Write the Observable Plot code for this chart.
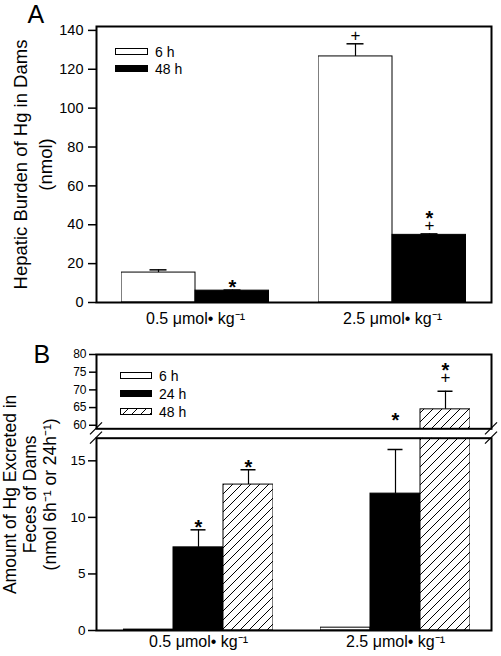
<!DOCTYPE html>
<html><head><meta charset="utf-8">
<script src="https://cdn.jsdelivr.net/npm/d3@7"></script>
<script src="https://cdn.jsdelivr.net/npm/@observablehq/plot@0.6"></script>
<style>
body{margin:0;background:#fff;}
#chart{position:relative;width:501px;height:656px;background:#fff;font-family:"Liberation Sans",Arial,Helvetica,sans-serif;color:#000;}
#chart svg{position:absolute;left:0;overflow:visible;background:none;}
</style></head><body><div id="chart"></div>
<script>
// ---------- data ----------
const doses = ["0.5", "2.5"];
const doseLabels = ["0.5 \u03bcmol\u2022 kg\u207b\u00b9", "2.5 \u03bcmol\u2022 kg\u207b\u00b9"];

// Panel A: hepatic burden (nmol)
const timesA = ["6 h", "48 h"];
const a6Mean = [15.4, 126.6];
const a6Err = [1.4, 6.5];
const a6Marks = ["", "+"];
const a48Mean = [6.1, 34.8];
const a48Err = [0.3, 0.5];
const a48Marks = ["*", "*+"];
const yTicksA = [0, 20, 40, 60, 80, 100, 120, 140];
const yDomainA = [0, 142];

// Panel B: fecal excretion (nmol 6h-1 or 24h-1), broken axis
const timesB = ["6 h", "24 h", "48 h"];
const b6Mean = [0.08, 0.25];
const b6Err = [0, 0];
const b6Marks = ["", ""];
const b24Mean = [7.35, 12.1];
const b24Err = [1.55, 3.9];
const b24Marks = ["*", "*"];
const b48Mean = [12.9, 64.5];
const b48Err = [1.3, 5.1];
const b48Marks = ["*", "*+"];
const yTicksBUpper = [60, 65, 70, 75, 80];
const yDomainBUpper = [59, 80];
const yTicksBLower = [0, 5, 10, 15];
const yDomainBLower = [0, 17];

const titleA = "Hepatic Burden of Hg in Dams\n(nmol)";
const titleB = "Amount of Hg Excreted in\nFeces of Dams\n(nmol 6h\u207b\u00b9 or 24h\u207b\u00b9)";

// ---------- build ----------
const FONT = '"Liberation Sans", Arial, Helvetica, sans-serif';
const W = 501, ML = 96, MR = 10;
const chart = d3.select("#chart");

// hatch pattern
const defsSvg = chart.append("svg").attr("width", 0).attr("height", 0);
const pat = defsSvg.append("defs").append("pattern").attr("id", "hatch")
  .attr("patternUnits", "userSpaceOnUse").attr("width", 9).attr("height", 9);
pat.append("rect").attr("width", 9).attr("height", 9).attr("fill", "white");
pat.append("path").attr("d", "M-2,2L2,-2M0,9L9,0M7,11L11,7").attr("stroke", "black").attr("stroke-width", 1);

function rows(times, means, errs, marks) {
  return doses.flatMap((dose, i) => times.map((time, j) => ({
    dose, time, mean: means[j][i], err: errs[j][i], marks: marks[j][i], top: means[j][i] + errs[j][i]
  })));
}
const tableA = rows(timesA, [a6Mean, a48Mean], [a6Err, a48Err], [a6Marks, a48Marks]);
const tableB = rows(timesB, [b6Mean, b24Mean, b48Mean], [b6Err, b24Err, b48Err], [b6Marks, b24Marks, b48Marks]);
const fillA = d => d.time === "6 h" ? "white" : "black";
const fillB = d => d.time === "6 h" ? "white" : d.time === "24 h" ? "black" : "url(#hatch)";

function place(node, top) { node.style.top = top + "px"; chart.node().append(node); return node; }

function annotMarks(ann, yAcc, lift) {
  return [
    Plot.text(ann.filter(d => d.marks.includes("+")), {fx: "dose", x: "time", y: yAcc, text: () => "+", dy: -8 - lift, fontSize: 17}),
    Plot.text(ann.filter(d => d.marks === "*"), {fx: "dose", x: "time", y: yAcc, text: () => "*", dy: -2 - lift, fontSize: 20, fontWeight: "bold"}),
    Plot.text(ann.filter(d => d.marks === "*+"), {fx: "dose", x: "time", y: yAcc, text: () => "*", dy: -15 - lift, fontSize: 20, fontWeight: "bold"})
  ];
}

function barLayer({table, times, fill, height, mt, mb, yDomain, fx, capInset, ann, annY, lift = 0, axis, axisPad}) {
  const withErr = table.filter(d => d.err > 0);
  return Plot.plot({
    width: W, height, marginLeft: ML, marginRight: MR, marginTop: mt, marginBottom: mb,
    style: {fontFamily: FONT, background: "none", overflow: "visible"},
    fx: {domain: doses, axis: null, label: null, ...fx},
    x: {domain: times, padding: 0, axis: null},
    y: {domain: yDomain, axis: null},
    color: {type: "identity"},
    marks: [
      Plot.barY(table, {fx: "dose", x: "time", y: "mean", fill, stroke: "black", strokeWidth: 1, clip: true}),
      Plot.ruleX(withErr, {fx: "dose", x: "time", y1: "mean", y2: "top", stroke: "black", strokeWidth: 1.2, clip: true}),
      Plot.tickY(withErr, {fx: "dose", x: "time", y: "top", stroke: "black", strokeWidth: 1.5, insetLeft: capInset, insetRight: capInset, clip: true}),
      ...annotMarks(ann, annY, lift),
      ...(axis ? [Plot.axisFx({anchor: "bottom", tickSize: 0, tickPadding: axisPad, label: null, fontSize: 16,
        tickFormat: d => doseLabels[doses.indexOf(d)]})] : [])
    ]
  });
}

function frameLayer({height, mt, mb, yDomain, ticks, tickSize, tickPadding, fontSize, extra}) {
  return Plot.plot({
    width: W, height, marginLeft: ML, marginRight: MR, marginTop: mt, marginBottom: mb,
    style: {fontFamily: FONT, background: "none", overflow: "visible"},
    y: {domain: yDomain},
    marks: [
      Plot.frame({stroke: "black", strokeWidth: 2}),
      Plot.axisY({ticks, tickSize, tickPadding, fontSize, label: null, strokeWidth: 1.5}),
      ...extra
    ]
  });
}

// ---- Panel A ----
const A = {top: 0, height: 335, mt: 26, mb: 33};
place(barLayer({table: tableA, times: timesA, fill: fillA, height: A.height, mt: A.mt, mb: A.mb, yDomain: yDomainA,
  fx: {paddingInner: 0.25, paddingOuter: 0.125}, capInset: 28.5, ann: tableA.filter(d => d.marks), annY: "top",
  axis: true, axisPad: 10}), A.top);
place(frameLayer({height: A.height, mt: A.mt, mb: A.mb, yDomain: yDomainA, ticks: yTicksA, tickSize: 8, tickPadding: 5, fontSize: 14.5,
  extra: [
    Plot.text([titleA], {frameAnchor: "left", textAnchor: "middle", lineAnchor: "middle", rotate: -90, dx: -65, lineHeight: 1.33, fontSize: 18.5}),
    Plot.text(["A"], {frameAnchor: "top-left", textAnchor: "start", lineAnchor: "bottom", dx: -69, dy: -4, fontSize: 25})
  ]}), A.top);

// ---- Panel B (broken axis) ----
const BU = {top: 330, height: 105, mt: 24, mb: 6.7};
const BL = {top: 420, height: 236, mt: 17.7, mb: 26};
const fxB = {paddingInner: 0.24, paddingOuter: 0.12, align: 0.55};
const lowerMax = 15.5;
const annB = tableB.filter(d => d.marks);
place(barLayer({table: tableB, times: timesB, fill: fillB, height: BU.height, mt: BU.mt, mb: BU.mb, yDomain: yDomainBUpper,
  fx: fxB, capInset: 17.5, ann: annB.filter(d => d.top > lowerMax), annY: d => Math.max(d.top, yDomainBUpper[0]),
  lift: 6, axis: false}), BU.top);
const upperFrame = place(frameLayer({height: BU.height, mt: BU.mt, mb: BU.mb, yDomain: yDomainBUpper, ticks: yTicksBUpper,
  tickSize: 7, tickPadding: 3, fontSize: 12,
  extra: [Plot.text(["B"], {frameAnchor: "top-left", textAnchor: "start", lineAnchor: "bottom", dx: -63, dy: 8, fontSize: 25})]}), BU.top);
place(barLayer({table: tableB, times: timesB, fill: fillB, height: BL.height, mt: BL.mt, mb: BL.mb, yDomain: yDomainBLower,
  fx: fxB, capInset: 17.5, ann: annB.filter(d => d.top <= lowerMax), annY: "top", axis: true, axisPad: 5}), BL.top);
place(frameLayer({height: BL.height, mt: BL.mt, mb: BL.mb, yDomain: yDomainBLower, ticks: yTicksBLower,
  tickSize: 8, tickPadding: 3, fontSize: 13.5,
  extra: [Plot.text([titleB], {frameAnchor: "left", textAnchor: "middle", lineAnchor: "middle", rotate: -90, dx: -67, dy: -40, lineHeight: 1.15, fontSize: 17.5})]}), BL.top);

// axis-break slashes on the upper frame layer
{
  const yb1 = BU.height - BU.mb;                 // bottom of upper frame
  const yb2 = (BL.top + BL.mt) - BU.top;          // top of lower frame
  const g = d3.select(upperFrame).append("g").attr("stroke", "black").attr("stroke-width", 1.2);
  for (const x of [ML, W - MR]) for (const y of [yb1, yb2]) {
    g.append("line").attr("x1", x - 6).attr("y1", y + 6).attr("x2", x + 6).attr("y2", y - 6);
  }
}

// ---------- legends ----------
function legend(items, {left, top, step, sw, sh, gap, fontSize}) {
  items.forEach(([label, fill], i) => {
    const y = top + i * step;
    chart.append("svg").attr("width", sw).attr("height", sh)
      .style("left", left + "px").style("top", y + "px")
      .append("rect").attr("x", 0.5).attr("y", 0.5).attr("width", sw - 1).attr("height", sh - 1)
      .attr("fill", fill).attr("stroke", "black").attr("stroke-width", 1);
    chart.append("div").text(label)
      .style("position", "absolute").style("left", (left + sw + gap) + "px")
      .style("top", (y + sh / 2 - fontSize / 2) + "px").style("font-size", fontSize + "px")
      .style("line-height", "1").style("white-space", "nowrap");
  });
}
legend(timesA.map(t => [t, fillA({time: t})]), {left: 115, top: 48, step: 17, sw: 33, sh: 7, gap: 7, fontSize: 14});
legend(timesB.map(t => [t, fillB({time: t})]), {left: 120, top: 372, step: 18, sw: 32, sh: 7, gap: 7, fontSize: 14});
</script></body></html>
